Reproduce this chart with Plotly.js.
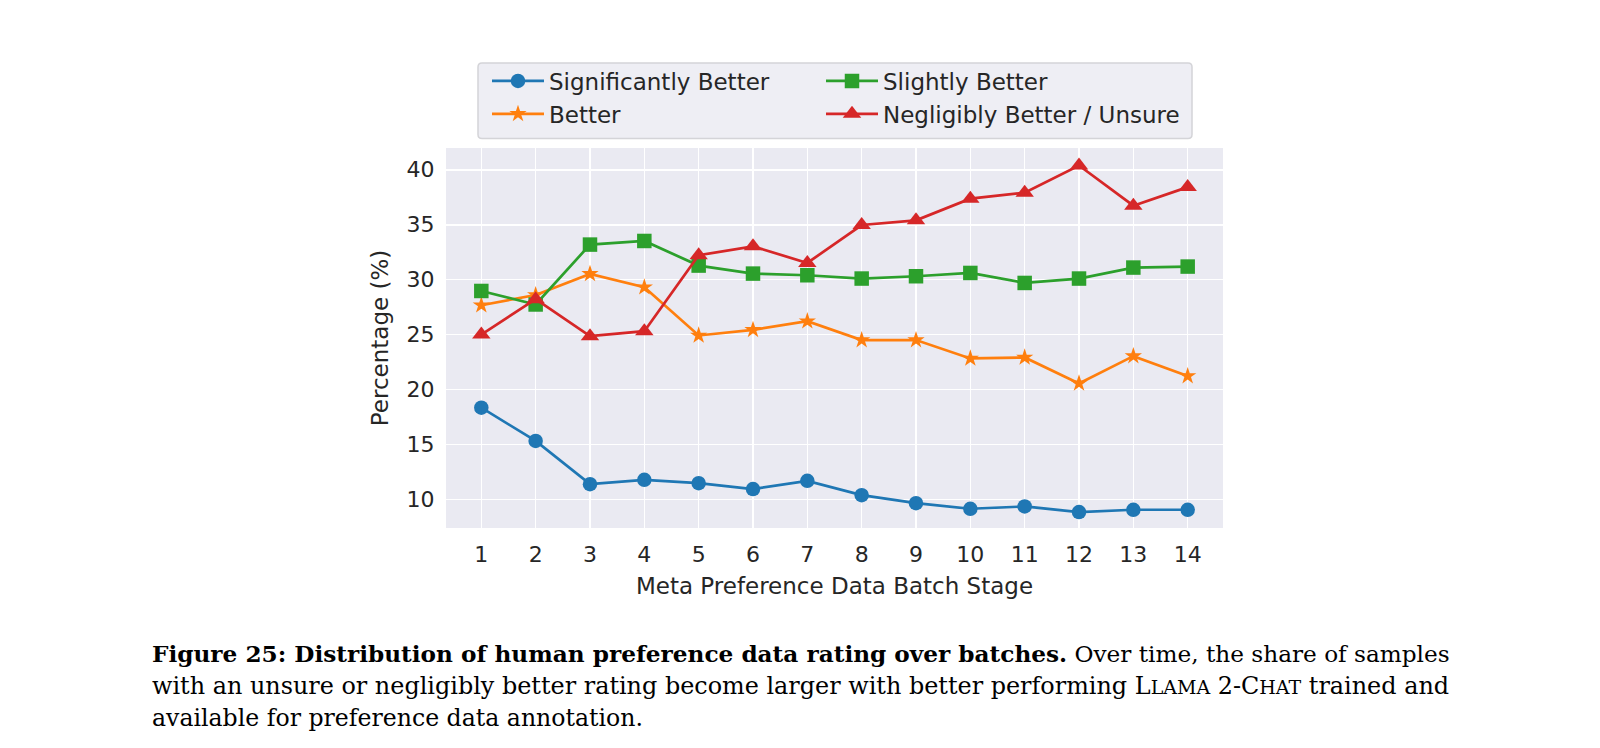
<!DOCTYPE html>
<html>
<head>
<meta charset="utf-8">
<script src="https://cdn.plot.ly/plotly-3.0.1.min.js"></script>
<style>
  html, body { margin: 0; padding: 0; background: #ffffff; }
  #chart { width: 1600px; height: 748px; }
</style>
</head>
<body>
<div id="chart"></div>
<script>
// ---- data ----
const stages = [1, 2, 3, 4, 5, 6, 7, 8, 9, 10, 11, 12, 13, 14];
const significantlyBetter = [18.35, 15.32, 11.39, 11.78, 11.48, 10.94, 11.69, 10.39, 9.66, 9.15, 9.36, 8.85, 9.06, 9.06];
const better = [27.67, 28.6, 30.52, 29.31, 24.92, 25.43, 26.22, 24.5, 24.5, 22.83, 22.92, 20.56, 23.04, 21.23];
const slightlyBetter = [28.97, 27.74, 33.19, 33.52, 31.28, 30.55, 30.4, 30.1, 30.31, 30.61, 29.7, 30.1, 31.1, 31.19];
const negligiblyBetter = [25.0, 28.22, 24.86, 25.31, 32.22, 33.03, 31.52, 34.97, 35.4, 37.37, 37.91, 40.39, 36.73, 38.42];
const seriesNames = ["Significantly Better", "Better", "Slightly Better", "Negligibly Better / Unsure"];
const yTickVals = [10, 15, 20, 25, 30, 35, 40];
const xAxisTitle = "Meta Preference Data Batch Stage";
const yAxisTitle = "Percentage (%)";
const captionLines = [
  "<b>Figure 25: Distribution of human preference data rating over batches.</b> Over time, the share of samples",
  "with an unsure or negligibly better rating become larger with better performing L<span style=\"font-size:19px\">LAMA</span> 2-C<span style=\"font-size:19px\">HAT</span> trained and",
  "available for preference data annotation."
];

// ---- geometry ----
const W = 1600, H = 748;
const M = { l: 446, r: 377, t: 148, b: 220 };
const plotW = W - M.l - M.r, plotH = H - M.t - M.b;
const px2x = px => (px - M.l) / plotW;
const px2y = py => (H - M.b - py) / plotH;

function roundRectPath(x0, y0, x1, y1, r) {
  const X = px2x, Y = px2y;
  return "M" + X(x0 + r) + "," + Y(y0) +
    " L" + X(x1 - r) + "," + Y(y0) +
    " Q" + X(x1) + "," + Y(y0) + " " + X(x1) + "," + Y(y0 + r) +
    " L" + X(x1) + "," + Y(y1 - r) +
    " Q" + X(x1) + "," + Y(y1) + " " + X(x1 - r) + "," + Y(y1) +
    " L" + X(x0 + r) + "," + Y(y1) +
    " Q" + X(x0) + "," + Y(y1) + " " + X(x0) + "," + Y(y1 - r) +
    " L" + X(x0) + "," + Y(y0 + r) +
    " Q" + X(x0) + "," + Y(y0) + " " + X(x0 + r) + "," + Y(y0) + " Z";
}

const textColor = "#262626";
const chartFont = "DejaVu Sans, sans-serif";

function mk(name, y, color, symbol, size, legendId, group) {
  return {
    x: stages, y: y, name: name, type: "scatter", mode: "lines+markers",
    line: { color: color, width: 2.7 },
    marker: { color: color, symbol: symbol, size: size, line: { width: 0 } },
    legend: legendId, legendgroup: group
  };
}

const traces = [
  mk(seriesNames[0], significantlyBetter, "#1f77b4", "circle", 14.5, "legend", "g1"),
  mk(seriesNames[1], better, "#ff7f0e", "star", 13, "legend", "g2"),
  mk(seriesNames[2], slightlyBetter, "#2ca02c", "square", 14.5, "legend2", "g3"),
  mk(seriesNames[3], negligiblyBetter, "#d62728", "triangle-up", 16, "legend2", "g4")
];

const captionY = [653, 686, 718];
const captionSize = [23.2, 23.9, 23.6];
const annotations = captionLines.map((t, i) => ({
  text: t, xref: "paper", yref: "paper",
  x: px2x(150), y: px2y(captionY[i]), xanchor: "left", yanchor: "middle",
  showarrow: false, align: "left",
  font: { family: "DejaVu Serif, serif", size: captionSize[i], color: "#000000" }
}));

function legendAt(leftPx) {
  return {
    orientation: "v",
    x: px2x(leftPx), xanchor: "left",
    y: px2y(59.5), yanchor: "top",
    bgcolor: "rgba(0,0,0,0)",
    borderwidth: 0,
    font: { family: chartFont, size: 23, color: textColor },
    itemwidth: 52,
    tracegroupgap: 5,
    traceorder: "normal"
  };
}

const layout = {
  width: W, height: H,
  margin: M,
  paper_bgcolor: "#ffffff",
  plot_bgcolor: "#EAEAF2",
  font: { family: chartFont, color: textColor, size: 22 },
  showlegend: true,
  legend: legendAt(487),
  legend2: legendAt(821),
  shapes: [{
    type: "path", xref: "paper", yref: "paper", layer: "below",
    path: roundRectPath(478, 63, 1192, 138.5, 4),
    fillcolor: "#EEEEF4",
    line: { color: "#D4D4D8", width: 1.5 }
  }],
  xaxis: {
    range: [0.35, 14.65],
    tickmode: "array", tickvals: stages, ticktext: stages.map(String),
    showgrid: true, gridcolor: "#ffffff", gridwidth: 1.6,
    zeroline: false, showline: false,
    ticks: "outside", ticklen: 7, tickcolor: "rgba(0,0,0,0)",
    tickfont: { size: 22, color: textColor },
    title: { text: xAxisTitle, font: { size: 23, color: textColor }, standoff: 11 }
  },
  yaxis: {
    range: [7.4, 41.98],
    tickmode: "array", tickvals: yTickVals, ticktext: yTickVals.map(String),
    showgrid: true, gridcolor: "#ffffff", gridwidth: 1.6,
    zeroline: false, showline: false,
    ticks: "outside", ticklen: 6, tickcolor: "rgba(0,0,0,0)",
    tickfont: { size: 22, color: textColor },
    title: { text: yAxisTitle, font: { size: 23, color: textColor }, standoff: 11 }
  },
  annotations: annotations
};

Plotly.newPlot("chart", traces, layout, { staticPlot: true, displayModeBar: false });
</script>
</body>
</html>
